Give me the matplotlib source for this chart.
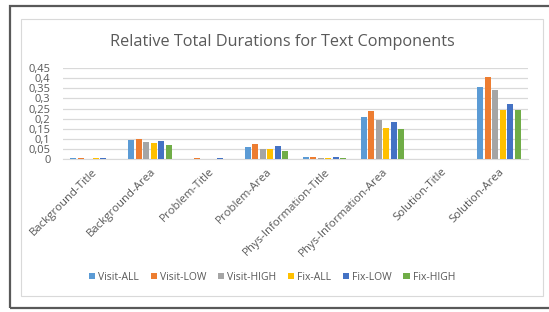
import numpy as np
import matplotlib.pyplot as plt
from matplotlib.patches import Rectangle

categories = ['Background-Title', 'Background-Area', 'Problem-Title', 'Problem-Area',
              'Phys-Information-Title', 'Phys-Information-Area', 'Solution-Title', 'Solution-Area']
series = ['Visit-ALL', 'Visit-LOW', 'Visit-HIGH', 'Fix-ALL', 'Fix-LOW', 'Fix-HIGH']

visit_all = [0.004, 0.097, 0.003, 0.062, 0.012, 0.207, 0.003, 0.355]
visit_low = [0.004, 0.102, 0.004, 0.077, 0.012, 0.237, 0.002, 0.407]
visit_high = [0.003, 0.087, 0.002, 0.053, 0.008, 0.192, 0.003, 0.342]
fix_all = [0.004, 0.080, 0.003, 0.052, 0.008, 0.153, 0.002, 0.243]
fix_low = [0.004, 0.092, 0.004, 0.065, 0.010, 0.182, 0.002, 0.273]
fix_high = [0.003, 0.072, 0.002, 0.043, 0.008, 0.147, 0.003, 0.242]

yticks = [0, 0.05, 0.1, 0.15, 0.2, 0.25, 0.3, 0.35, 0.4, 0.45]
ytick_labels = ['0', '0,05', '0,1', '0,15', '0,2', '0,25', '0,3', '0,35', '0,4', '0,45']

colors = ['#5B9BD5', '#ED7D31', '#A5A5A5', '#FFC000', '#4472C4', '#70AD47']
text_color = '#595959'

plt.rcParams['font.family'] = ['Open Sans', 'DejaVu Sans']

W, H = 549, 312
fig = plt.figure(figsize=(W / 100, H / 100), dpi=100)

# outer dark frame and inner light chart border (pixel coords -> figure fraction)
def px(x, y):
    return x / W, 1 - y / H

x0, y0 = px(9.5, 308)
fig.patches.append(Rectangle((x0, y0), 1.2, (308 - 6) / H, transform=fig.transFigure,
                             fill=False, edgecolor='#595959', lw=1.6))
x1, y1 = px(21, 296)
fig.patches.append(Rectangle((x1, y1), (543 - 21) / W, (296 - 19) / H, transform=fig.transFigure,
                             fill=False, edgecolor='#D9D9D9', lw=0.8))

left, right = 63 / W, 528 / W
bottom, top = 1 - 159.3 / H, 1 - 68 / H
ax = fig.add_axes([left, bottom, right - left, top - bottom])

data = [visit_all, visit_low, visit_high, fix_all, fix_low, fix_high]
x = np.arange(len(categories))
step = 0.129
width = 0.103
for i, (name, vals) in enumerate(zip(series, data)):
    ax.bar(x + (i - 2.5) * step, vals, width, color=colors[i], label=name, zorder=3)

ax.set_xlim(-0.5, len(categories) - 0.5)
ax.set_ylim(0, 0.45)
ax.set_yticks(yticks)
ax.set_yticklabels(ytick_labels)
ax.yaxis.grid(True, color='#D9D9D9', lw=0.9, zorder=0)
ax.set_axisbelow(True)
for s in ['top', 'right', 'left']:
    ax.spines[s].set_visible(False)
ax.spines['bottom'].set_color('#D9D9D9')
ax.tick_params(axis='both', length=0, colors=text_color, labelsize=8)
ax.tick_params(axis='y', pad=9)
ax.set_xticks(x)
ax.set_xticklabels(categories, rotation=45, ha='right', rotation_mode='anchor', fontsize=8.2)
ax.tick_params(axis='x', pad=5)

fig.text(282 / W, 1 - 42 / H, 'Relative Total Durations for Text Components',
         ha='center', va='center', fontsize=11.7, color=text_color)

leg = fig.legend(loc='center', bbox_to_anchor=(272 / W, 1 - 277 / H), ncol=6, frameon=False,
                 fontsize=7.5, handlelength=0.6, handleheight=0.6, handletextpad=0.3,
                 columnspacing=1.1, labelcolor=text_color)

fig.savefig('out.png', dpi=100)
